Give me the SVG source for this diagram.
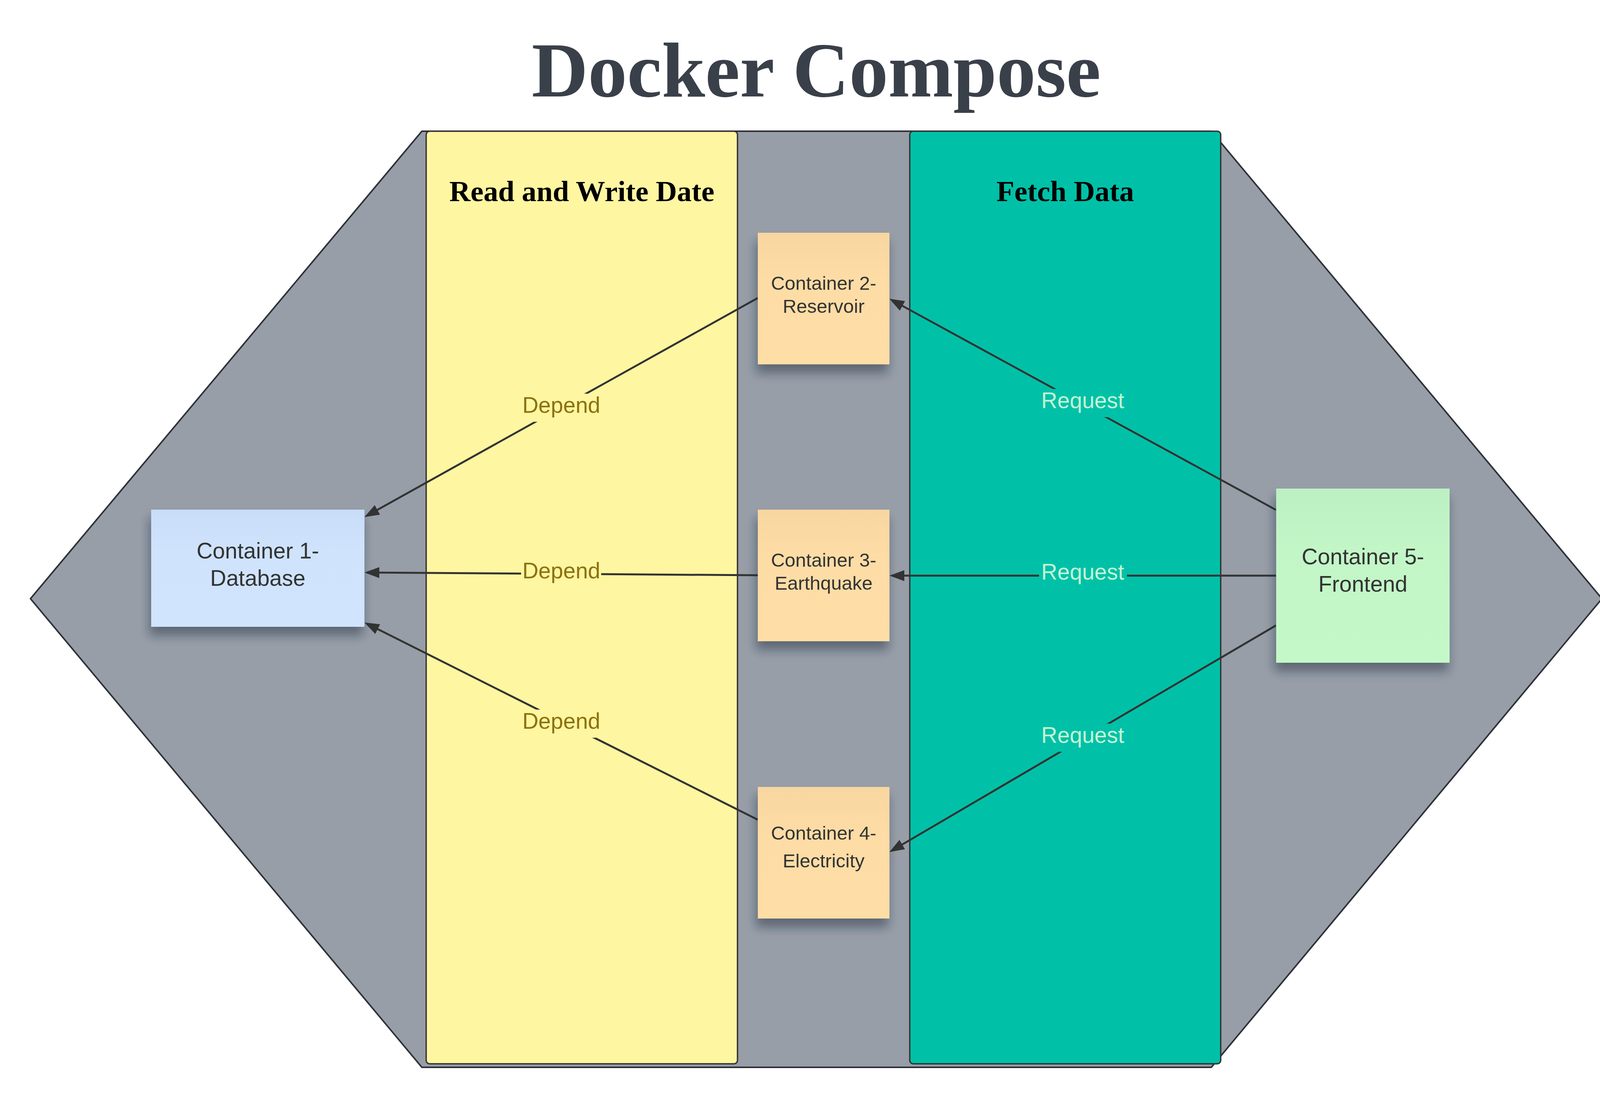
<svg xmlns="http://www.w3.org/2000/svg" width="4181" height="2809" viewBox="0 0 4181 2809">
<style>
.lane{stroke:#333;stroke-width:3.5}
.lanetitle{font-family:"Liberation Serif","Times New Roman",serif;font-weight:bold;font-size:75px;fill:#000;text-anchor:middle}
.conn{stroke:#333;stroke-width:5;fill:none;marker-end:url(#arrow)}
.small{font-family:"Liberation Sans",Arial,sans-serif;font-size:49px;fill:#333;text-anchor:middle}
.big{font-family:"Liberation Sans",Arial,sans-serif;font-size:57px;fill:#333;text-anchor:middle}
.dep{font-family:"Liberation Sans",Arial,sans-serif;font-size:57px;fill:#8b7212;text-anchor:middle}
.req{font-family:"Liberation Sans",Arial,sans-serif;font-size:57px;fill:#c7f5d2;text-anchor:middle}
</style>
<defs>
<marker id="arrow" markerUnits="userSpaceOnUse" markerWidth="40" markerHeight="28" refX="31" refY="14" orient="auto">
<path d="M0,0 L38,14 L0,28 z" fill="#333"/>
</marker>
<filter id="shadow" x="-20%" y="-20%" width="140%" height="150%">
<feDropShadow dx="-4" dy="22" stdDeviation="13" flood-color="#1e2430" flood-opacity="0.45"/>
</filter>
<linearGradient id="gPeach" x1="0" y1="0" x2="0" y2="1">
<stop offset="0" stop-color="#f8d6a0"/><stop offset="0.35" stop-color="#fddca5"/><stop offset="1" stop-color="#fedea6"/>
</linearGradient>
<linearGradient id="gBlue" x1="0" y1="0" x2="0" y2="1">
<stop offset="0" stop-color="#c9ddf8"/><stop offset="0.35" stop-color="#cfe3fd"/><stop offset="1" stop-color="#d0e4fe"/>
</linearGradient>
<linearGradient id="gGreen" x1="0" y1="0" x2="0" y2="1">
<stop offset="0" stop-color="#bcf0c3"/><stop offset="0.35" stop-color="#c2f6c7"/><stop offset="1" stop-color="#c4f8c9"/>
</linearGradient>
</defs>
<rect width="4181" height="2809" fill="#ffffff"/>
<text x="2089.5" y="247" font-family="'Liberation Serif','Times New Roman',serif" font-weight="bold" font-size="200" fill="#3a404a" text-anchor="middle">Docker Compose</text>
<g id="hexagon">
<path d="M1080,336 L3101,336 L4101,1533 L3101,2733 L1080,2733 L78,1533 Z" fill="#979ea8" stroke="#2e3138" stroke-width="4" stroke-linejoin="round"/>
</g>
<g id="lane-read-write">
<rect class="lane" x="1091" y="336" width="797" height="2388" rx="9" fill="#fff6a1"/>
<text class="lanetitle" x="1489.5" y="515">Read and Write Date</text>
</g>
<g id="lane-fetch">
<rect class="lane" x="2329" y="336" width="796" height="2388" rx="9" fill="#00c1a8"/>
<text class="lanetitle" x="2727" y="515">Fetch Data</text>
</g>
<g id="connectors">
<path class="conn" d="M1940,763 L939.1,1320.6"/>
<path class="conn" d="M1940,1473 L940,1466"/>
<path class="conn" d="M1940,2099 L939.3,1597.1"/>
<path class="conn" d="M3266.5,1305.6 L2283.1,768.4"/>
<path class="conn" d="M3266.5,1474 L2284,1474"/>
<path class="conn" d="M3266.5,1601.5 L2283,2178.2"/>
<rect x="1334" y="1008" width="205" height="72" fill="#fff6a1"/>
<text class="dep" x="1437" y="1057">Depend</text>
<rect x="1334" y="1432" width="205" height="72" fill="#fff6a1"/>
<text class="dep" x="1437" y="1481">Depend</text>
<rect x="1334" y="1817" width="205" height="72" fill="#fff6a1"/>
<text class="dep" x="1437" y="1866">Depend</text>
<rect x="2660" y="996" width="225" height="72" fill="#00c1a8"/>
<text class="req" x="2772" y="1045">Request</text>
<rect x="2660" y="1435" width="225" height="72" fill="#00c1a8"/>
<text class="req" x="2772" y="1484">Request</text>
<rect x="2660" y="1853" width="225" height="72" fill="#00c1a8"/>
<text class="req" x="2772" y="1902">Request</text>
</g>
<g id="container1">
<rect x="387" y="1305" width="546" height="300" fill="url(#gBlue)" filter="url(#shadow)"/>
<text class="big" x="660" y="1430">Container 1-</text>
<text class="big" x="660" y="1500">Database</text>
</g>
<g id="container2">
<rect x="1940" y="596" width="337" height="337" fill="url(#gPeach)" filter="url(#shadow)"/>
<text class="small" x="2108.5" y="742">Container 2-</text>
<text class="small" x="2108.5" y="801">Reservoir</text>
</g>
<g id="container3">
<rect x="1940" y="1305" width="337" height="337" fill="url(#gPeach)" filter="url(#shadow)"/>
<text class="small" x="2108.5" y="1451">Container 3-</text>
<text class="small" x="2108.5" y="1510">Earthquake</text>
</g>
<g id="container4">
<rect x="1940" y="2015" width="337" height="337" fill="url(#gPeach)" filter="url(#shadow)"/>
<text class="small" x="2108.5" y="2150">Container 4-</text>
<text class="small" x="2108.5" y="2221">Electricity</text>
</g>
<g id="container5">
<rect x="3267" y="1251" width="444" height="446" fill="url(#gGreen)" filter="url(#shadow)"/>
<text class="big" x="3489" y="1445">Container 5-</text>
<text class="big" x="3489" y="1515">Frontend</text>
</g>
</svg>
